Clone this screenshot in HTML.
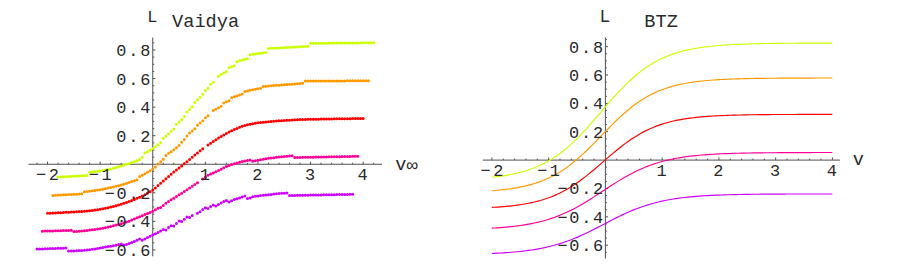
<!DOCTYPE html>
<html><head><meta charset="utf-8"><title>plot</title>
<style>html,body{margin:0;padding:0;background:#fff}svg{display:block}text{font-family:"Liberation Mono",monospace;fill:#2a2a2a}</style></head><body>
<svg width="900" height="265" viewBox="0 0 900 265">
<rect width="900" height="265" fill="#fff"/>
<path d="M37.03 164.25V162.75M58.07 164.25V162.75M68.59 164.25V162.75M79.11 164.25V162.75M89.63 164.25V162.75M110.67 164.25V162.75M121.19 164.25V162.75M131.71 164.25V162.75M142.23 164.25V162.75M163.27 164.25V162.75M173.79 164.25V162.75M184.31 164.25V162.75M194.83 164.25V162.75M215.87 164.25V162.75M226.39 164.25V162.75M236.91 164.25V162.75M247.43 164.25V162.75M268.47 164.25V162.75M278.99 164.25V162.75M289.51 164.25V162.75M300.03 164.25V162.75M321.07 164.25V162.75M331.59 164.25V162.75M342.11 164.25V162.75M352.63 164.25V162.75M373.67 164.25V162.75M47.55 164.25V161.65M100.15 164.25V161.65M205.35 164.25V161.65M257.95 164.25V161.65M310.55 164.25V161.65M363.15 164.25V161.65M152.75 242.79H154.25M152.75 235.65H154.25M152.75 228.51H154.25M152.75 214.23H154.25M152.75 207.09H154.25M152.75 199.95H154.25M152.75 185.67H154.25M152.75 178.53H154.25M152.75 171.39H154.25M152.75 157.11H154.25M152.75 149.97H154.25M152.75 142.83H154.25M152.75 128.55H154.25M152.75 121.41H154.25M152.75 114.27H154.25M152.75 99.99H154.25M152.75 92.85H154.25M152.75 85.71H154.25M152.75 71.43H154.25M152.75 64.29H154.25M152.75 57.15H154.25M152.75 42.87H154.25M152.75 249.93H155.35M152.75 221.37H155.35M152.75 192.81H155.35M152.75 135.69H155.35M152.75 107.13H155.35M152.75 78.57H155.35M152.75 50.01H155.35M28.50 164.25H382.00M152.75 37.50V256.30" stroke="#505050" stroke-width="1" fill="none"/>
<path d="M58.07 177.07h0M60.70 176.93h0M63.33 176.79h0M65.96 176.65h0M68.59 176.51h0M71.22 176.37h0M73.85 176.23h0M76.48 176.09h0M79.11 175.95h0M81.74 175.81h0M84.37 175.67h0M87.00 175.53h0M89.63 172.24h0M92.26 171.95h0M94.89 171.62h0M97.52 171.27h0M100.15 170.88h0M102.78 170.46h0M105.41 170.00h0M108.04 169.50h0M110.67 168.95h0M113.30 168.33h0M115.93 167.61h0M118.56 166.80h0M121.19 165.94h0M123.82 165.09h0M126.45 164.25h0M129.08 163.43h0M131.71 162.57h0M134.34 161.67h0M136.97 160.70h0M139.60 159.60h0M142.23 157.20h0M144.86 153.10h0M147.49 151.80h0M150.12 150.30h0M152.75 148.60h0M155.38 146.70h0M158.01 144.70h0M160.64 142.50h0M163.27 138.20h0M165.90 135.90h0M168.53 133.75h0M171.16 131.30h0M173.79 128.90h0M176.42 124.20h0M179.05 122.00h0M181.68 119.40h0M184.31 116.50h0M186.94 112.00h0M189.57 109.50h0M192.20 106.70h0M194.83 102.40h0M197.46 99.80h0M200.09 97.30h0M202.72 94.20h0M205.35 90.60h0M207.98 88.20h0M210.61 84.20h0M213.24 82.30h0M218.50 76.16h0M221.13 74.46h0M223.76 72.91h0M226.39 71.46h0M229.02 67.79h0M231.65 66.70h0M234.28 65.71h0M236.91 61.70h0M239.54 60.81h0M242.17 60.03h0M244.80 59.31h0M247.43 58.68h0M250.06 54.74h0M252.69 54.36h0M255.32 53.98h0M257.95 53.59h0M260.58 53.21h0M263.21 52.83h0M265.84 52.45h0M268.47 48.50h0M271.10 48.36h0M273.73 48.21h0M276.36 48.06h0M278.99 47.92h0M281.62 47.77h0M284.25 47.62h0M286.88 47.48h0M289.51 47.33h0M292.14 47.19h0M294.77 47.04h0M297.40 46.89h0M300.03 46.75h0M302.66 46.60h0M305.29 46.46h0M307.92 46.31h0M310.55 43.25h0M313.18 43.23h0M315.81 43.21h0M318.44 43.19h0M321.07 43.17h0M323.70 43.15h0M326.33 43.13h0M328.96 43.11h0M331.59 43.09h0M334.22 43.07h0M336.85 43.05h0M339.48 43.03h0M342.11 43.00h0M344.74 42.98h0M347.37 42.96h0M350.00 42.94h0M352.63 42.92h0M355.26 42.90h0M357.89 42.88h0M360.52 42.86h0M363.15 42.84h0M365.78 42.82h0M368.41 42.80h0M371.04 42.78h0M373.67 42.76h0" stroke="#CCFF00" stroke-width="3.0" stroke-linecap="round" fill="none"/>
<path d="M52.81 195.38h0M55.44 195.24h0M58.07 195.11h0M60.70 194.97h0M63.33 194.83h0M65.96 194.69h0M68.59 194.55h0M71.22 194.41h0M73.85 194.27h0M76.48 194.13h0M79.11 193.99h0M81.74 193.86h0M84.37 191.75h0M87.00 191.47h0M89.63 191.16h0M92.26 190.81h0M94.89 190.44h0M97.52 190.05h0M100.15 189.63h0M102.78 189.17h0M105.41 188.66h0M108.04 188.12h0M110.67 187.55h0M113.30 186.95h0M115.93 186.31h0M118.56 185.64h0M121.19 184.92h0M123.82 184.17h0M126.45 183.37h0M129.08 182.51h0M131.71 181.60h0M134.34 180.64h0M136.97 179.63h0M139.60 176.51h0M142.23 175.19h0M144.86 173.75h0M147.49 172.24h0M150.12 170.65h0M152.75 168.90h0M155.38 166.99h0M158.01 163.99h0M160.64 161.69h0M163.27 159.36h0M165.90 155.57h0M168.53 153.35h0M171.16 151.66h0M173.79 149.66h0M176.42 147.64h0M179.05 145.44h0M181.68 142.36h0M184.31 139.40h0M186.94 136.12h0M189.57 133.08h0M192.20 130.97h0M194.83 128.68h0M197.46 125.15h0M200.09 122.89h0M202.72 120.76h0M205.35 117.84h0M207.98 115.69h0M213.24 110.48h0M215.87 109.17h0M218.50 107.76h0M221.13 106.23h0M223.76 102.99h0M226.39 101.85h0M229.02 100.63h0M231.65 97.74h0M234.28 96.78h0M236.91 95.90h0M239.54 94.97h0M242.17 93.99h0M244.80 91.48h0M247.43 90.92h0M250.06 90.36h0M252.69 89.80h0M255.32 89.24h0M257.95 88.68h0M260.58 88.13h0M263.21 86.39h0M265.84 86.19h0M268.47 85.98h0M271.10 85.78h0M273.73 85.57h0M276.36 85.36h0M278.99 85.16h0M281.62 84.95h0M284.25 84.75h0M286.88 84.54h0M289.51 84.34h0M292.14 84.13h0M294.77 83.93h0M297.40 83.72h0M300.03 83.52h0M302.66 83.31h0M305.29 81.10h0M307.92 81.09h0M310.55 81.07h0M313.18 81.06h0M315.81 81.04h0M318.44 81.03h0M321.07 81.01h0M323.70 81.00h0M326.33 80.99h0M328.96 80.97h0M331.59 80.96h0M334.22 80.94h0M336.85 80.93h0M339.48 80.91h0M342.11 80.90h0M344.74 80.89h0M347.37 80.87h0M350.00 80.86h0M352.63 80.84h0M355.26 80.83h0M357.89 80.82h0M360.52 80.80h0M363.15 80.79h0M365.78 80.77h0M368.41 80.76h0" stroke="#FF9900" stroke-width="3.0" stroke-linecap="round" fill="none"/>
<path d="M47.55 213.37h0M50.18 213.23h0M52.81 213.08h0M55.44 212.94h0M58.07 212.79h0M60.70 212.64h0M63.33 212.49h0M65.96 212.34h0M68.59 212.19h0M71.22 212.05h0M73.85 211.91h0M76.48 211.77h0M79.11 211.62h0M81.74 211.45h0M84.37 211.25h0M87.00 211.02h0M89.63 210.75h0M92.26 210.43h0M94.89 210.08h0M97.52 209.69h0M100.15 209.28h0M102.78 208.81h0M105.41 208.28h0M108.04 207.69h0M110.67 207.06h0M113.30 206.40h0M115.93 205.71h0M118.56 204.98h0M121.19 204.20h0M123.82 203.36h0M126.45 202.47h0M129.08 201.54h0M131.71 200.55h0M134.34 199.49h0M136.97 198.37h0M139.60 197.19h0M142.23 195.95h0M144.86 194.65h0M147.49 193.26h0M150.12 191.73h0M152.75 190.03h0M155.38 187.95h0M158.01 185.58h0M160.64 183.20h0M163.27 180.95h0M165.90 178.70h0M168.53 176.47h0M171.16 174.26h0M173.79 172.10h0M176.42 170.00h0M179.05 167.95h0M181.68 165.89h0M184.31 163.80h0M186.94 161.66h0M189.57 159.48h0M192.20 157.29h0M194.83 155.11h0M197.46 152.96h0M200.09 150.85h0M202.72 148.81h0M207.98 145.01h0M210.61 143.22h0M213.24 141.46h0M215.87 139.72h0M218.50 138.04h0M221.13 136.43h0M223.76 134.89h0M226.39 133.45h0M229.02 132.10h0M231.65 130.82h0M234.28 129.62h0M236.91 128.45h0M239.54 127.33h0M242.17 126.35h0M244.80 125.55h0M247.43 124.85h0M250.06 124.23h0M252.69 123.71h0M255.32 123.25h0M257.95 122.84h0M260.58 122.49h0M263.21 122.18h0M265.84 121.91h0M268.47 121.66h0M271.10 121.43h0M273.73 121.22h0M276.36 121.02h0M278.99 120.83h0M281.62 120.64h0M284.25 120.46h0M286.88 120.29h0M289.51 120.13h0M292.14 119.98h0M294.77 119.83h0M297.40 119.70h0M300.03 119.60h0M302.66 119.51h0M305.29 119.43h0M307.92 119.36h0M310.55 119.30h0M313.18 119.24h0M315.81 119.18h0M318.44 119.13h0M321.07 119.08h0M323.70 119.03h0M326.33 118.99h0M328.96 118.94h0M331.59 118.90h0M334.22 118.85h0M336.85 118.81h0M339.48 118.77h0M342.11 118.73h0M344.74 118.69h0M347.37 118.66h0M350.00 118.63h0M352.63 118.60h0M355.26 118.57h0M357.89 118.55h0M360.52 118.53h0M363.15 118.51h0" stroke="#FF0000" stroke-width="3.0" stroke-linecap="round" fill="none"/>
<path d="M42.29 231.19h0M44.92 231.11h0M47.55 231.04h0M50.18 230.96h0M52.81 230.88h0M55.44 230.80h0M58.07 230.73h0M60.70 230.65h0M63.33 230.57h0M65.96 230.49h0M68.59 230.42h0M71.22 230.34h0M73.85 231.60h0M76.48 231.41h0M79.11 231.18h0M81.74 230.94h0M84.37 230.67h0M87.00 230.38h0M89.63 230.07h0M92.26 229.76h0M94.89 229.42h0M97.52 229.05h0M100.15 228.64h0M102.78 228.19h0M105.41 227.69h0M108.04 227.11h0M110.67 226.47h0M113.30 225.80h0M115.93 225.11h0M118.56 224.41h0M121.19 223.68h0M123.82 222.90h0M126.45 222.06h0M129.08 221.13h0M131.71 220.06h0M134.34 218.92h0M136.97 217.79h0M139.60 216.72h0M142.23 215.67h0M144.86 214.62h0M147.49 213.53h0M150.12 212.38h0M152.75 211.13h0M155.38 209.74h0M158.01 208.24h0M160.64 207.50h0M163.27 205.60h0M165.90 203.27h0M168.53 201.55h0M171.16 199.85h0M173.79 198.19h0M176.42 196.52h0M179.05 194.84h0M181.68 193.15h0M184.31 191.45h0M186.94 189.74h0M189.57 188.02h0M192.20 186.28h0M194.83 184.54h0M197.46 182.78h0M202.72 179.09h0M205.35 177.14h0M207.98 175.27h0M210.61 174.00h0M213.24 173.03h0M215.87 171.71h0M218.50 170.44h0M221.13 169.17h0M223.76 167.86h0M226.39 166.59h0M229.02 165.44h0M231.65 164.47h0M234.28 163.67h0M236.91 162.96h0M239.54 162.28h0M242.17 161.62h0M244.80 161.01h0M247.43 160.44h0M250.06 159.92h0M252.69 161.16h0M255.32 160.64h0M257.95 160.14h0M260.58 159.66h0M263.21 159.20h0M265.84 158.78h0M268.47 158.37h0M271.10 158.00h0M273.73 157.65h0M276.36 157.34h0M278.99 157.04h0M281.62 156.76h0M284.25 156.50h0M286.88 156.25h0M289.51 156.03h0M292.14 155.84h0M294.77 157.50h0M297.40 157.45h0M300.03 157.40h0M302.66 157.35h0M305.29 157.30h0M307.92 157.25h0M310.55 157.20h0M313.18 157.14h0M315.81 157.09h0M318.44 157.04h0M321.07 156.99h0M323.70 156.94h0M326.33 156.89h0M328.96 156.84h0M331.59 156.79h0M334.22 156.73h0M336.85 156.68h0M339.48 156.63h0M342.11 156.58h0M344.74 156.53h0M347.37 156.48h0M350.00 156.43h0M352.63 156.37h0M355.26 156.32h0M357.89 156.27h0" stroke="#FF0099" stroke-width="3.0" stroke-linecap="round" fill="none"/>
<path d="M37.03 249.10h0M39.66 249.00h0M42.29 248.91h0M44.92 248.81h0M47.55 248.71h0M50.18 248.62h0M52.81 248.52h0M55.44 248.42h0M58.07 248.33h0M60.70 248.23h0M63.33 248.13h0M65.96 248.04h0M68.59 251.00h0M71.22 250.97h0M73.85 250.88h0M76.48 250.75h0M79.11 250.58h0M81.74 250.38h0M84.37 250.15h0M87.00 249.91h0M89.63 249.65h0M92.26 249.37h0M94.89 248.98h0M97.52 248.50h0M100.15 247.99h0M102.78 247.49h0M105.41 247.03h0M108.04 246.58h0M110.67 246.13h0M113.30 245.65h0M115.93 245.13h0M118.56 244.56h0M121.19 243.95h0M123.82 245.12h0M126.45 244.42h0M129.08 243.57h0M131.71 242.61h0M134.34 241.55h0M136.97 240.36h0M139.60 239.06h0M142.23 240.37h0M144.86 238.98h0M147.49 237.60h0M150.12 236.23h0M152.75 234.87h0M155.38 233.80h0M158.01 232.50h0M160.64 231.00h0M163.27 229.40h0M165.90 230.00h0M168.53 227.60h0M171.16 225.80h0M173.79 226.00h0M176.42 223.60h0M179.05 221.10h0M181.68 221.40h0M184.31 219.30h0M186.94 217.10h0M189.57 217.50h0M192.20 215.40h0M197.46 213.20h0M200.09 211.80h0M202.72 209.60h0M205.35 207.70h0M207.98 208.60h0M210.61 206.50h0M213.24 205.00h0M215.87 205.90h0M218.50 204.40h0M221.13 203.10h0M223.76 201.60h0M226.39 200.40h0M229.02 202.00h0M231.65 200.80h0M234.28 199.50h0M236.91 198.80h0M239.54 197.90h0M242.17 197.10h0M244.80 196.10h0M247.43 198.60h0M250.06 197.90h0M252.69 196.85h0M255.32 196.32h0M257.95 195.89h0M260.58 195.55h0M263.21 195.25h0M265.84 194.98h0M268.47 194.70h0M271.10 194.40h0M273.73 194.08h0M276.36 193.76h0M278.99 193.49h0M281.62 193.30h0M284.25 193.19h0M286.88 193.11h0M289.51 195.50h0M292.14 195.45h0M294.77 195.40h0M297.40 195.35h0M300.03 195.30h0M302.66 195.26h0M305.29 195.21h0M307.92 195.16h0M310.55 195.11h0M313.18 195.06h0M315.81 195.01h0M318.44 194.96h0M321.07 194.91h0M323.70 194.86h0M326.33 194.81h0M328.96 194.77h0M331.59 194.72h0M334.22 194.67h0M336.85 194.62h0M339.48 194.57h0M342.11 194.52h0M344.74 194.47h0M347.37 194.42h0M350.00 194.37h0M352.63 194.33h0" stroke="#CC00FF" stroke-width="3.0" stroke-linecap="round" fill="none"/>
<path d="M503.25 160.10V158.60M514.60 160.10V158.60M525.95 160.10V158.60M537.30 160.10V158.60M560.00 160.10V158.60M571.35 160.10V158.60M582.70 160.10V158.60M594.05 160.10V158.60M616.75 160.10V158.60M628.10 160.10V158.60M639.45 160.10V158.60M650.80 160.10V158.60M673.50 160.10V158.60M684.85 160.10V158.60M696.20 160.10V158.60M707.55 160.10V158.60M730.25 160.10V158.60M741.60 160.10V158.60M752.95 160.10V158.60M764.30 160.10V158.60M787.00 160.10V158.60M798.35 160.10V158.60M809.70 160.10V158.60M821.05 160.10V158.60M491.90 160.10V157.50M548.65 160.10V157.50M662.15 160.10V157.50M718.90 160.10V157.50M775.65 160.10V157.50M832.40 160.10V157.50M605.40 252.27H606.90M605.40 238.09H606.90M605.40 231.00H606.90M605.40 223.91H606.90M605.40 209.73H606.90M605.40 202.64H606.90M605.40 195.55H606.90M605.40 181.37H606.90M605.40 174.28H606.90M605.40 167.19H606.90M605.40 153.01H606.90M605.40 145.92H606.90M605.40 138.83H606.90M605.40 124.65H606.90M605.40 117.56H606.90M605.40 110.47H606.90M605.40 96.29H606.90M605.40 89.20H606.90M605.40 82.11H606.90M605.40 67.93H606.90M605.40 60.84H606.90M605.40 53.75H606.90M605.40 39.57H606.90M605.40 245.18H608.00M605.40 216.82H608.00M605.40 188.46H608.00M605.40 131.74H608.00M605.40 103.38H608.00M605.40 75.02H608.00M605.40 46.66H608.00M482.80 160.10H840.00M605.40 37.50V258.50" stroke="#505050" stroke-width="1" fill="none"/>
<path d="M491.80 177.29 L494.64 176.97 L497.47 176.62 L500.31 176.24 L503.15 175.82 L505.99 175.36 L508.82 174.86 L511.66 174.31 L514.50 173.71 L517.34 173.05 L520.17 172.34 L523.01 171.56 L525.85 170.72 L528.69 169.80 L531.52 168.80 L534.36 167.72 L537.20 166.56 L540.04 165.30 L542.88 163.94 L545.71 162.47 L548.55 160.90 L551.39 159.22 L554.22 157.42 L557.06 155.51 L559.90 153.47 L562.74 151.31 L565.57 149.02 L568.41 146.61 L571.25 144.08 L574.09 141.44 L576.92 138.68 L579.76 135.81 L582.60 132.85 L585.44 129.80 L588.27 126.67 L591.11 123.47 L593.95 120.22 L596.79 116.93 L599.62 113.62 L602.46 110.30 L605.30 106.98 L608.14 103.69 L610.97 100.44 L613.81 97.23 L616.65 94.09 L619.49 91.03 L622.32 88.06 L625.16 85.18 L628.00 82.41 L630.84 79.75 L633.67 77.21 L636.51 74.79 L639.35 72.49 L642.19 70.31 L645.02 68.26 L647.86 66.33 L650.70 64.52 L653.54 62.82 L656.38 61.24 L659.21 59.77 L662.05 58.40 L664.89 57.12 L667.72 55.95 L670.56 54.86 L673.40 53.85 L676.24 52.93 L679.07 52.08 L681.91 51.29 L684.75 50.57 L687.59 49.91 L690.42 49.30 L693.26 48.75 L696.10 48.24 L698.94 47.78 L701.77 47.35 L704.61 46.96 L707.45 46.61 L710.29 46.29 L713.12 45.99 L715.96 45.72 L718.80 45.48 L721.64 45.26 L724.48 45.05 L727.31 44.87 L730.15 44.70 L732.99 44.55 L735.82 44.41 L738.66 44.28 L741.50 44.16 L744.34 44.06 L747.17 43.96 L750.01 43.88 L752.85 43.80 L755.69 43.73 L758.52 43.66 L761.36 43.60 L764.20 43.55 L767.04 43.50 L769.88 43.46 L772.71 43.41 L775.55 43.38 L778.39 43.35 L781.23 43.31 L784.06 43.29 L786.90 43.26 L789.74 43.24 L792.58 43.22 L795.41 43.20 L798.25 43.18 L801.09 43.17 L803.92 43.15 L806.76 43.14 L809.60 43.13 L812.44 43.12 L815.27 43.11 L818.11 43.10 L820.95 43.09 L823.79 43.09 L826.62 43.08 L829.46 43.07 L832.30 43.07" stroke="#CCFF00" stroke-width="1.15" fill="none" stroke-linejoin="round"/>
<path d="M491.80 190.75 L494.64 190.52 L497.47 190.27 L500.31 189.99 L503.15 189.68 L505.99 189.35 L508.82 188.98 L511.66 188.57 L514.50 188.12 L517.34 187.63 L520.17 187.09 L523.01 186.50 L525.85 185.85 L528.69 185.14 L531.52 184.37 L534.36 183.53 L537.20 182.61 L540.04 181.61 L542.88 180.53 L545.71 179.35 L548.55 178.08 L551.39 176.71 L554.22 175.24 L557.06 173.66 L559.90 171.97 L562.74 170.16 L565.57 168.24 L568.41 166.20 L571.25 164.05 L574.09 161.79 L576.92 159.42 L579.76 156.95 L582.60 154.38 L585.44 151.72 L588.27 148.98 L591.11 146.18 L593.95 143.33 L596.79 140.43 L599.62 137.51 L602.46 134.58 L605.30 131.65 L608.14 128.74 L610.97 125.87 L613.81 123.04 L616.65 120.28 L619.49 117.59 L622.32 114.98 L625.16 112.47 L628.00 110.05 L630.84 107.75 L633.67 105.55 L636.51 103.47 L639.35 101.50 L642.19 99.65 L645.02 97.91 L647.86 96.29 L650.70 94.77 L653.54 93.36 L656.38 92.05 L659.21 90.84 L662.05 89.72 L664.89 88.69 L667.72 87.74 L670.56 86.86 L673.40 86.06 L676.24 85.33 L679.07 84.66 L681.91 84.04 L684.75 83.48 L687.59 82.97 L690.42 82.51 L693.26 82.09 L696.10 81.70 L698.94 81.35 L701.77 81.03 L704.61 80.75 L707.45 80.48 L710.29 80.25 L713.12 80.03 L715.96 79.84 L718.80 79.66 L721.64 79.50 L724.48 79.35 L727.31 79.22 L730.15 79.10 L732.99 79.00 L735.82 78.90 L738.66 78.81 L741.50 78.73 L744.34 78.66 L747.17 78.60 L750.01 78.54 L752.85 78.48 L755.69 78.44 L758.52 78.39 L761.36 78.35 L764.20 78.32 L767.04 78.29 L769.88 78.26 L772.71 78.23 L775.55 78.21 L778.39 78.19 L781.23 78.17 L784.06 78.15 L786.90 78.13 L789.74 78.12 L792.58 78.11 L795.41 78.10 L798.25 78.09 L801.09 78.08 L803.92 78.07 L806.76 78.06 L809.60 78.05 L812.44 78.05 L815.27 78.04 L818.11 78.04 L820.95 78.03 L823.79 78.03 L826.62 78.02 L829.46 78.02 L832.30 78.02" stroke="#FF9900" stroke-width="1.15" fill="none" stroke-linejoin="round"/>
<path d="M491.80 207.44 L494.64 207.28 L497.47 207.09 L500.31 206.89 L503.15 206.66 L505.99 206.41 L508.82 206.14 L511.66 205.84 L514.50 205.50 L517.34 205.14 L520.17 204.73 L523.01 204.29 L525.85 203.80 L528.69 203.26 L531.52 202.67 L534.36 202.03 L537.20 201.32 L540.04 200.56 L542.88 199.72 L545.71 198.81 L548.55 197.82 L551.39 196.75 L554.22 195.60 L557.06 194.35 L559.90 193.02 L562.74 191.58 L565.57 190.05 L568.41 188.42 L571.25 186.69 L574.09 184.87 L576.92 182.94 L579.76 180.93 L582.60 178.83 L585.44 176.64 L588.27 174.39 L591.11 172.07 L593.95 169.69 L596.79 167.28 L599.62 164.83 L602.46 162.37 L605.30 159.90 L608.14 157.44 L610.97 155.01 L613.81 152.61 L616.65 150.26 L619.49 147.96 L622.32 145.74 L625.16 143.59 L628.00 141.53 L630.84 139.55 L633.67 137.67 L636.51 135.89 L639.35 134.20 L642.19 132.62 L645.02 131.13 L647.86 129.74 L650.70 128.44 L653.54 127.24 L656.38 126.12 L659.21 125.09 L662.05 124.14 L664.89 123.26 L667.72 122.45 L670.56 121.71 L673.40 121.04 L676.24 120.42 L679.07 119.85 L681.91 119.34 L684.75 118.87 L687.59 118.44 L690.42 118.06 L693.26 117.70 L696.10 117.38 L698.94 117.09 L701.77 116.83 L704.61 116.59 L707.45 116.38 L710.29 116.18 L713.12 116.00 L715.96 115.84 L718.80 115.70 L721.64 115.57 L724.48 115.45 L727.31 115.35 L730.15 115.25 L732.99 115.16 L735.82 115.08 L738.66 115.01 L741.50 114.95 L744.34 114.89 L747.17 114.84 L750.01 114.79 L752.85 114.75 L755.69 114.71 L758.52 114.68 L761.36 114.65 L764.20 114.62 L767.04 114.60 L769.88 114.57 L772.71 114.55 L775.55 114.53 L778.39 114.52 L781.23 114.50 L784.06 114.49 L786.90 114.48 L789.74 114.47 L792.58 114.46 L795.41 114.45 L798.25 114.44 L801.09 114.43 L803.92 114.43 L806.76 114.42 L809.60 114.42 L812.44 114.41 L815.27 114.41 L818.11 114.40 L820.95 114.40 L823.79 114.40 L826.62 114.39 L829.46 114.39 L832.30 114.39" stroke="#FF0000" stroke-width="1.15" fill="none" stroke-linejoin="round"/>
<path d="M491.80 228.19 L494.64 228.02 L497.47 227.83 L500.31 227.62 L503.15 227.40 L505.99 227.15 L508.82 226.88 L511.66 226.58 L514.50 226.26 L517.34 225.90 L520.17 225.52 L523.01 225.10 L525.85 224.64 L528.69 224.15 L531.52 223.61 L534.36 223.03 L537.20 222.39 L540.04 221.71 L542.88 220.97 L545.71 220.18 L548.55 219.32 L551.39 218.41 L554.22 217.43 L557.06 216.38 L559.90 215.27 L562.74 214.09 L565.57 212.83 L568.41 211.51 L571.25 210.12 L574.09 208.66 L576.92 207.14 L579.76 205.55 L582.60 203.91 L585.44 202.22 L588.27 200.47 L591.11 198.69 L593.95 196.87 L596.79 195.03 L599.62 193.17 L602.46 191.30 L605.30 189.43 L608.14 187.57 L610.97 185.72 L613.81 183.90 L616.65 182.12 L619.49 180.37 L622.32 178.67 L625.16 177.02 L628.00 175.43 L630.84 173.90 L633.67 172.44 L636.51 171.04 L639.35 169.71 L642.19 168.45 L645.02 167.26 L647.86 166.14 L650.70 165.08 L653.54 164.10 L656.38 163.18 L659.21 162.32 L662.05 161.52 L664.89 160.77 L667.72 160.08 L670.56 159.45 L673.40 158.86 L676.24 158.31 L679.07 157.81 L681.91 157.35 L684.75 156.93 L687.59 156.54 L690.42 156.19 L693.26 155.86 L696.10 155.56 L698.94 155.29 L701.77 155.04 L704.61 154.81 L707.45 154.60 L710.29 154.41 L713.12 154.24 L715.96 154.08 L718.80 153.94 L721.64 153.80 L724.48 153.68 L727.31 153.57 L730.15 153.48 L732.99 153.39 L735.82 153.30 L738.66 153.23 L741.50 153.16 L744.34 153.10 L747.17 153.04 L750.01 152.99 L752.85 152.94 L755.69 152.90 L758.52 152.86 L761.36 152.83 L764.20 152.80 L767.04 152.77 L769.88 152.74 L772.71 152.72 L775.55 152.70 L778.39 152.68 L781.23 152.66 L784.06 152.64 L786.90 152.63 L789.74 152.62 L792.58 152.60 L795.41 152.59 L798.25 152.58 L801.09 152.57 L803.92 152.56 L806.76 152.56 L809.60 152.55 L812.44 152.54 L815.27 152.54 L818.11 152.53 L820.95 152.53 L823.79 152.52 L826.62 152.52 L829.46 152.52 L832.30 152.51" stroke="#FF0099" stroke-width="1.15" fill="none" stroke-linejoin="round"/>
<path d="M491.80 253.44 L494.64 253.31 L497.47 253.17 L500.31 253.02 L503.15 252.85 L505.99 252.66 L508.82 252.46 L511.66 252.24 L514.50 252.00 L517.34 251.73 L520.17 251.45 L523.01 251.13 L525.85 250.79 L528.69 250.41 L531.52 250.01 L534.36 249.57 L537.20 249.09 L540.04 248.57 L542.88 248.01 L545.71 247.41 L548.55 246.76 L551.39 246.06 L554.22 245.31 L557.06 244.50 L559.90 243.65 L562.74 242.74 L565.57 241.77 L568.41 240.75 L571.25 239.68 L574.09 238.55 L576.92 237.36 L579.76 236.13 L582.60 234.85 L585.44 233.52 L588.27 232.16 L591.11 230.76 L593.95 229.33 L596.79 227.88 L599.62 226.41 L602.46 224.93 L605.30 223.45 L608.14 221.97 L610.97 220.51 L613.81 219.06 L616.65 217.63 L619.49 216.24 L622.32 214.88 L625.16 213.56 L628.00 212.29 L630.84 211.07 L633.67 209.89 L636.51 208.77 L639.35 207.70 L642.19 206.69 L645.02 205.74 L647.86 204.84 L650.70 203.99 L653.54 203.20 L656.38 202.46 L659.21 201.77 L662.05 201.13 L664.89 200.53 L667.72 199.98 L670.56 199.47 L673.40 199.00 L676.24 198.56 L679.07 198.16 L681.91 197.79 L684.75 197.45 L687.59 197.14 L690.42 196.86 L693.26 196.60 L696.10 196.36 L698.94 196.14 L701.77 195.94 L704.61 195.76 L707.45 195.60 L710.29 195.44 L713.12 195.31 L715.96 195.18 L718.80 195.07 L721.64 194.96 L724.48 194.87 L727.31 194.78 L730.15 194.70 L732.99 194.63 L735.82 194.57 L738.66 194.51 L741.50 194.45 L744.34 194.41 L747.17 194.36 L750.01 194.32 L752.85 194.28 L755.69 194.25 L758.52 194.22 L761.36 194.19 L764.20 194.17 L767.04 194.15 L769.88 194.13 L772.71 194.11 L775.55 194.09 L778.39 194.08 L781.23 194.06 L784.06 194.05 L786.90 194.04 L789.74 194.03 L792.58 194.02 L795.41 194.01 L798.25 194.00 L801.09 193.99 L803.92 193.99 L806.76 193.98 L809.60 193.98 L812.44 193.97 L815.27 193.97 L818.11 193.96 L820.95 193.96 L823.79 193.96 L826.62 193.95 L829.46 193.95 L832.30 193.95" stroke="#CC00FF" stroke-width="1.15" fill="none" stroke-linejoin="round"/>
<g stroke="none">
<text x="36.1" y="180.0" font-size="16.9" textLength="22.8" fill="#111">−2</text>
<text x="88.8" y="180.0" font-size="16.9" textLength="22.8" fill="#111">−1</text>
<text x="199.7" y="180.0" font-size="16.9" textLength="11.4" fill="#111">1</text>
<text x="252.2" y="180.0" font-size="16.9" textLength="11.4" fill="#111">2</text>
<text x="304.9" y="180.0" font-size="16.9" textLength="11.4" fill="#111">3</text>
<text x="357.4" y="180.0" font-size="16.9" textLength="11.4" fill="#111">4</text>
<text x="104.8" y="255.8" font-size="16.9" textLength="45.6" fill="#111">−0.6</text>
<text x="104.8" y="227.3" font-size="16.9" textLength="45.6" fill="#111">−0.4</text>
<text x="104.8" y="198.7" font-size="16.9" textLength="45.6" fill="#111">−0.2</text>
<text x="116.2" y="141.6" font-size="16.9" textLength="34.2" fill="#111">0.2</text>
<text x="116.2" y="113.0" font-size="16.9" textLength="34.2" fill="#111">0.4</text>
<text x="116.2" y="84.5" font-size="16.9" textLength="34.2" fill="#111">0.6</text>
<text x="116.2" y="55.9" font-size="16.9" textLength="34.2" fill="#111">0.8</text>
<text x="147.2" y="22.4" font-size="16.8" textLength="11.2" fill="#111">L</text>
<text x="172.1" y="27.3" font-size="18.6" textLength="67.0" fill="#111">Vaidya</text>
<text x="395.2" y="169.6" font-size="18.6" textLength="11.2" fill="#111">v</text>
<text x="480.5" y="175.8" font-size="16.9" textLength="22.8" fill="#111">−2</text>
<text x="537.2" y="175.8" font-size="16.9" textLength="22.8" fill="#111">−1</text>
<text x="656.4" y="175.8" font-size="16.9" textLength="11.4" fill="#111">1</text>
<text x="713.2" y="175.8" font-size="16.9" textLength="11.4" fill="#111">2</text>
<text x="769.9" y="175.8" font-size="16.9" textLength="11.4" fill="#111">3</text>
<text x="826.7" y="175.8" font-size="16.9" textLength="11.4" fill="#111">4</text>
<text x="557.5" y="251.1" font-size="16.9" textLength="45.6" fill="#111">−0.6</text>
<text x="557.5" y="222.7" font-size="16.9" textLength="45.6" fill="#111">−0.4</text>
<text x="557.5" y="194.4" font-size="16.9" textLength="45.6" fill="#111">−0.2</text>
<text x="568.9" y="137.6" font-size="16.9" textLength="34.2" fill="#111">0.2</text>
<text x="568.9" y="109.3" font-size="16.9" textLength="34.2" fill="#111">0.4</text>
<text x="568.9" y="80.9" font-size="16.9" textLength="34.2" fill="#111">0.6</text>
<text x="568.9" y="52.6" font-size="16.9" textLength="34.2" fill="#111">0.8</text>
<text x="599.6" y="22.4" font-size="17.9" textLength="11.2" fill="#111">L</text>
<text x="644.3" y="27.4" font-size="18.6" textLength="33.5" fill="#111">BTZ</text>
<text x="852.8" y="165.2" font-size="18.6" textLength="11.2" fill="#111">v</text>
<text x="406.5" y="171" font-size="18" textLength="11.4" lengthAdjust="spacingAndGlyphs" fill="#333">∞</text>
</g>
</svg></body></html>
